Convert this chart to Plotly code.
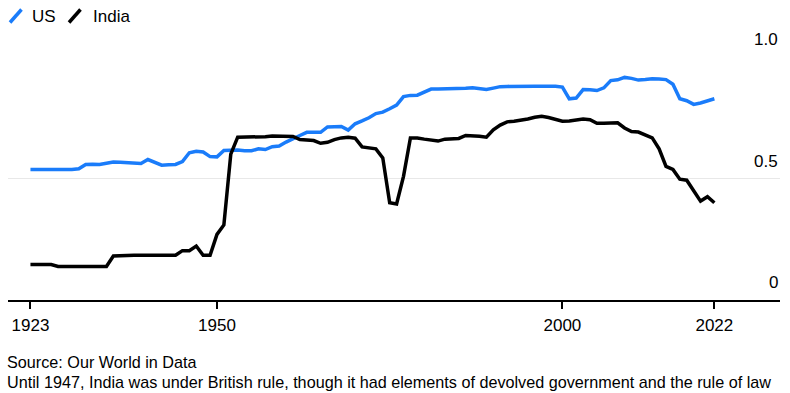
import plotly.graph_objects as go

# ---- data ----
years = list(range(1923, 2023))

us = [
    0.537, 0.537, 0.536, 0.537, 0.537, 0.537, 0.537, 0.540,            # 1923-1930
    0.558, 0.559, 0.558, 0.563, 0.568, 0.567, 0.565, 0.564, 0.562, 0.578,  # 1931-1940
    0.567, 0.555, 0.557, 0.558, 0.570, 0.606, 0.612, 0.609, 0.590, 0.589,  # 1941-1950
    0.615, 0.617, 0.617, 0.614, 0.614, 0.622, 0.619, 0.631, 0.634, 0.650,  # 1951-1960
    0.665, 0.677, 0.690, 0.690, 0.690, 0.712, 0.714, 0.714, 0.699, 0.725,  # 1961-1970
    0.737, 0.750, 0.767, 0.773, 0.787, 0.802, 0.837, 0.842, 0.843, 0.857,  # 1971-1980
    0.868, 0.868, 0.868, 0.869, 0.870, 0.871, 0.873, 0.870, 0.866, 0.872,  # 1981-1990
    0.878, 0.879, 0.880, 0.880, 0.880, 0.880, 0.880, 0.880, 0.880, 0.876,  # 1991-2000
    0.828, 0.831, 0.866, 0.865, 0.862, 0.873, 0.903, 0.906, 0.916, 0.912,  # 2001-2010
    0.905, 0.907, 0.910, 0.909, 0.907, 0.888, 0.828, 0.820, 0.805, 0.811,  # 2011-2020
    0.820, 0.828,                                                      # 2021-2022
]

india = [
    0.146, 0.147, 0.147, 0.146, 0.138, 0.138, 0.137, 0.137,            # 1923-1930
    0.137, 0.137, 0.137, 0.138, 0.181, 0.183, 0.183, 0.184, 0.184, 0.184,  # 1931-1940
    0.184, 0.184, 0.184, 0.184, 0.203, 0.203, 0.222, 0.184, 0.184, 0.270,  # 1941-1950
    0.309, 0.600, 0.670, 0.670, 0.670, 0.670, 0.672, 0.675, 0.675, 0.675,  # 1951-1960
    0.673, 0.660, 0.658, 0.656, 0.645, 0.649, 0.660, 0.667, 0.670, 0.666,  # 1961-1970
    0.630, 0.625, 0.622, 0.585, 0.400, 0.395, 0.509, 0.667, 0.667, 0.662,  # 1971-1980
    0.658, 0.654, 0.662, 0.663, 0.665, 0.677, 0.677, 0.674, 0.670, 0.700,  # 1981-1990
    0.720, 0.733, 0.736, 0.740, 0.745, 0.752, 0.756, 0.751, 0.743, 0.736,  # 1991-2000
    0.737, 0.742, 0.745, 0.742, 0.727, 0.727, 0.728, 0.729, 0.708, 0.693,  # 2001-2010
    0.691, 0.680, 0.667, 0.622, 0.550, 0.537, 0.497, 0.493, 0.448, 0.407,  # 2011-2020
    0.425, 0.400,                                                      # 2021-2022
]

series_names = ["US", "India"]
series_colors = ["#1a7cfa", "#000000"]

x_tickvals = [1923, 1950, 2000, 2022]
x_ticktext = ["1923", "1950", "2000", "2022"]
y_tickvals = [0, 0.5, 1.0]
y_ticktext = ["0", "0.5", "1.0"]

source_text = "Source: Our World in Data"
note_text = ("Until 1947, India was under British rule, though it had elements "
             "of devolved government and the rule of law")

# ---- layout geometry ----
W, H = 790, 393
ML, MR, MT, MB = 8, 10, 57, 93
PW, PH = W - ML - MR, H - MT - MB
FONT = "Liberation Sans, Arial, sans-serif"


def px_x(px):
    return (px - ML) / PW


def px_y(py):
    return (H - MB - py) / PH


fig = go.Figure()
for name, vals, col in zip(series_names, [us, india], series_colors):
    fig.add_trace(go.Scatter(
        x=years, y=vals, mode="lines", name=name,
        line=dict(color=col, width=3.5, shape="linear"),
        showlegend=False, hoverinfo="x+y+name",
    ))

# legend: diagonal strokes + labels
legend_items = [(10, 31), (69, 92)]
annotations = []
shapes = []
for (icon_x, text_x), name, col in zip(legend_items, series_names, series_colors):
    shapes.append(dict(
        type="line", xref="paper", yref="paper",
        x0=px_x(icon_x), y0=px_y(22.5), x1=px_x(icon_x + 11.5), y1=px_y(9.5),
        line=dict(color=col, width=3.5),
    ))
    annotations.append(dict(
        text=name, xref="paper", yref="paper", x=px_x(text_x), y=px_y(16.5),
        xanchor="left", yanchor="middle", showarrow=False,
        font=dict(family=FONT, size=17, color="#000000"), borderpad=0,
    ))

# y-axis value labels, sitting above their gridlines at the right edge
for val, txt in zip(y_tickvals, y_ticktext):
    annotations.append(dict(
        text=txt, xref="paper", yref="y", x=1.0, y=val,
        xanchor="right", yanchor="middle", yshift=17.5, xshift=-1,
        showarrow=False, borderpad=0,
        font=dict(family=FONT, size=17, color="#000000"),
    ))

annotations.append(dict(
    text=source_text, xref="paper", yref="paper", x=px_x(6), y=px_y(362),
    xanchor="left", yanchor="middle", showarrow=False,
    font=dict(family=FONT, size=16.2, color="#000000"), borderpad=0,
))
annotations.append(dict(
    text=note_text, xref="paper", yref="paper", x=px_x(6), y=px_y(382),
    xanchor="left", yanchor="middle", showarrow=False,
    font=dict(family=FONT, size=16.2, color="#000000"), borderpad=0,
))

fig.update_layout(
    width=W, height=H,
    margin=dict(l=ML, r=MR, t=MT, b=MB, autoexpand=False),
    paper_bgcolor="#ffffff", plot_bgcolor="#ffffff",
    font=dict(family=FONT, size=17, color="#000000"),
    showlegend=False,
    annotations=annotations,
    shapes=shapes,
    xaxis=dict(
        range=[1919.75, 2031.5],
        tickmode="array", tickvals=x_tickvals, ticktext=x_ticktext,
        showgrid=False, zeroline=False,
        showline=True, linecolor="#000000", linewidth=1.5,
        ticks="outside", ticklen=7, tickwidth=1.5, tickcolor="#000000",
        ticklabelstandoff=2,
        tickfont=dict(family=FONT, size=17, color="#000000"),
        fixedrange=True,
    ),
    yaxis=dict(
        range=[0, 1.0], side="right",
        tickmode="array", tickvals=y_tickvals,
        showticklabels=False,
        showgrid=True, gridcolor="#e8e8e8", gridwidth=1,
        zeroline=False, showline=False, ticks="",
        fixedrange=True,
    ),
)

fig.write_html(
    "out.html",
    config={"displayModeBar": False},
    post_script="document.body.style.margin='0';document.body.style.overflow='hidden';",
)
